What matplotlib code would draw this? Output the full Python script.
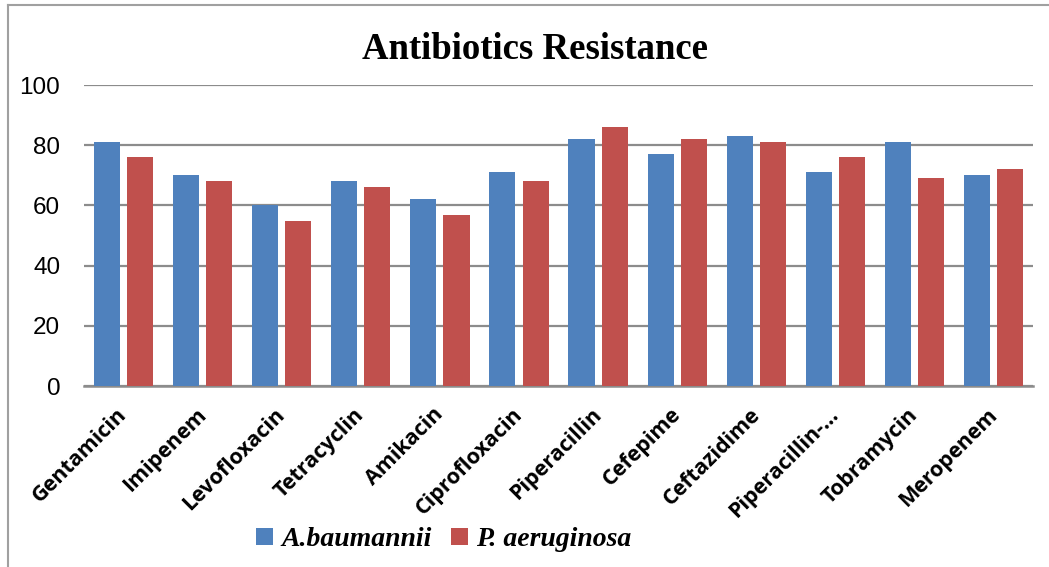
import matplotlib.pyplot as plt
import matplotlib.transforms as mtransforms
import numpy as np
from matplotlib.lines import Line2D

# === Data ===
antibiotics = ["Gentamicin", "Imipenem", "Levofloxacin", "Tetracyclin", "Amikacin",
               "Ciprofloxacin", "Piperacillin", "Cefepime", "Ceftazidime",
               "Piperacillin-...", "Tobramycin", "Meropenem"]
a_baumannii = [81, 70, 60, 68, 62, 71, 82, 77, 83, 71, 81, 70]
p_aeruginosa = [76, 68, 55, 66, 57, 68, 86, 82, 81, 76, 69, 72]

BLUE = "#4F81BD"
RED = "#C0504D"
GRID = "#8C8C8C"

fig = plt.figure(figsize=(10.49, 5.67), dpi=100)
ax = fig.add_axes([0.080, 0.319, 0.905, 0.531])

x = np.arange(len(antibiotics))
w = 0.33
ax.bar(x - 0.21, a_baumannii, w, color=BLUE, label="A.baumannii", zorder=3)
ax.bar(x + 0.21, p_aeruginosa, w, color=RED, label="P. aeruginosa", zorder=3)

ax.set_xlim(-0.5, len(antibiotics) - 0.5)
ax.set_ylim(0, 100)
ax.set_yticks(range(0, 101, 20))
ax.tick_params(axis="y", length=0, pad=17, labelsize=17.5)
ax.tick_params(axis="x", length=0, pad=13)
for lbl in ax.get_yticklabels():
    lbl.set_family("Liberation Sans")

ax.set_xticks(x)
ax.set_xticklabels(antibiotics, rotation=45, ha="right", rotation_mode="anchor",
                   fontsize=15.5, fontweight="bold", family="Open Sans")
shift = mtransforms.ScaledTranslation(-0.07, 0, fig.dpi_scale_trans)
for lbl in ax.get_xticklabels():
    lbl.set_transform(lbl.get_transform() + shift)

ax.yaxis.grid(True, color=GRID, linewidth=1.6, zorder=0)
for s in ["left", "right", "top"]:
    ax.spines[s].set_visible(False)
ax.spines["bottom"].set_color(GRID)
ax.spines["bottom"].set_linewidth(1.8)

fig.text(0.51, 0.912, "Antibiotics Resistance", ha="center", va="center",
         fontsize=26.5, fontweight="bold", family="Liberation Serif")

fig.legend(loc="center", bbox_to_anchor=(0.423, 0.048), ncol=2, frameon=False,
           prop={"family": "Liberation Serif", "weight": "bold", "style": "italic", "size": 20},
           handlelength=0.6, handleheight=0.6, handletextpad=0.3, columnspacing=0.7)

# chart frame (left and top edges)
fig.add_artist(Line2D([8 / 1049, 8 / 1049], [0, 1 - 5 / 567], color="#A0A0A0", lw=1.5))
fig.add_artist(Line2D([8 / 1049, 1], [1 - 5 / 567, 1 - 5 / 567], color="#A0A0A0", lw=1.5))

plt.savefig("out.png", dpi=100)
plt.close()
